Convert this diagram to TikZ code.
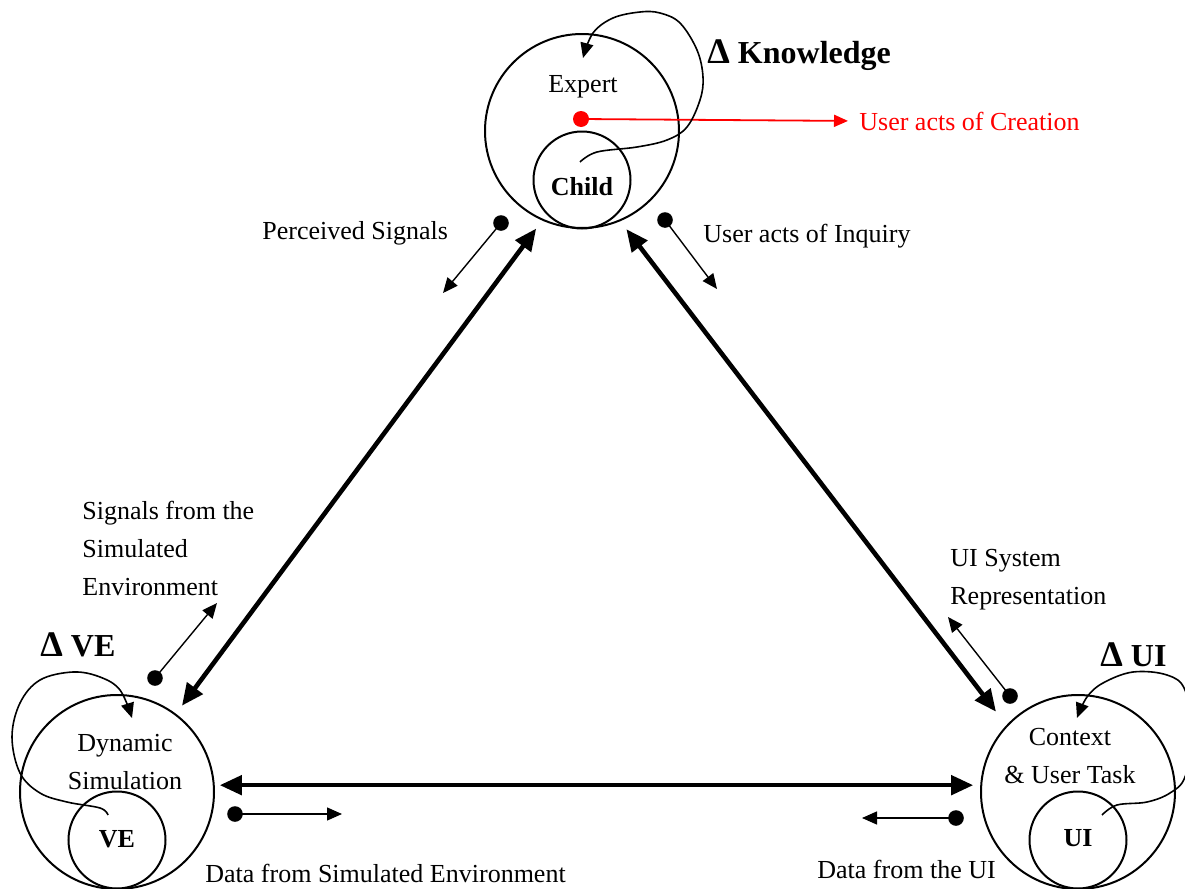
\documentclass[tikz,border=0pt]{standalone}
\usepackage{fontspec}
\setmainfont{Liberation Serif}
\usetikzlibrary{arrows.meta}
\newcommand{\bigdelta}{{\fontsize{18}{18}\selectfont Δ}}
\begin{document}
\begin{tikzpicture}[x=0.5pt,y=-0.5pt,
  txt/.style={font=\fontsize{13}{19}\selectfont, inner sep=0pt},
  big/.style={draw, circle, line width=1pt, minimum size=97pt, inner sep=0pt},
  small/.style={draw, circle, line width=1pt, minimum size=48.5pt, inner sep=0pt},
  thickarr/.style={line width=2.3pt, {Triangle[length=11pt,width=9.5pt]}-{Triangle[length=11pt,width=9.5pt]}},
  thinarr/.style={line width=0.7pt, -{Triangle[length=7.5pt,width=6.5pt]}},
  dotn/.style={circle, fill, inner sep=0pt, minimum size=7.8pt},
  loopline/.style={line width=0.8pt, -{Triangle[length=7.5pt,width=6.5pt]}},
  delta/.style={font=\fontsize{16}{18}\selectfont\bfseries, inner sep=0pt},
]
\useasboundingbox (0,0) rectangle (1185,889);
\clip (0,0) rectangle (1185,889);

% circles
\node[big] (expert) at (582,131) {};
\node[small] (child) at (582,180) {};
\node[big] (sim) at (117,792) {};
\node[small] (ve) at (117,840) {};
\node[big] (ctx) at (1078,792) {};
\node[small] (ui) at (1078,840) {};

% labels in circles
\node[txt] (expertlbl) at (583,87) {Expert};
\node[txt] (childlbl) at (582,187) {\textbf{Child}};
\node[txt, align=center] (simlbl) at (125,762) {Dynamic\\Simulation};
\node[txt] (velbl) at (117,839) {\textbf{VE}};
\node[txt, align=center] (ctxlbl) at (1070,756) {Context\\\& User Task};
\node[txt] (uilbl) at (1078,838) {\textbf{UI}};

% delta labels
\node[delta, anchor=west] (dk) at (707,55) {\bigdelta{} Knowledge};
\node[delta, anchor=west] (dve) at (40,645) {\bigdelta{} VE};
\node[delta, anchor=west] (dui) at (1100,655) {\bigdelta{} UI};

% other labels
\node[txt, anchor=west] (perc) at (262,233) {Perceived Signals};
\node[txt, anchor=west] (inq) at (703,236) {User acts of Inquiry};
\node[txt, anchor=west, align=left] (sigsim) at (82,548) {Signals from the\\Simulated\\Environment};
\node[txt, anchor=west, align=left] (uisys) at (950,580) {UI System\\Representation};
\node[txt, anchor=west] (datasim) at (205,873) {Data from Simulated Environment};
\node[txt, anchor=west] (dataui) at (817,869) {Data from the UI};
\node[txt, anchor=west, text=red] (creation) at (859,121) {User acts of Creation};

% thick arrows
\draw[thickarr, shorten <=5pt, shorten >=5pt] (sim.53.5) -- (expert.246.6);
\draw[thickarr, shorten <=5pt, shorten >=8.5pt] (expert.293.9) -- (ctx.137.2);
\draw[thickarr, shorten <=2.5pt, shorten >=3.5pt] (sim.4) -- (ctx.176);

% thin arrows with dots
\node[dotn] (d1) at (501,223) {}; \coordinate (e1) at (443,293);
\draw[thinarr] (d1.center) -- (e1);
\node[dotn] (d2) at (665,220) {}; \coordinate (e2) at (717,289);
\draw[thinarr] (d2.center) -- (e2);
\node[dotn] (d3) at (155,678) {}; \coordinate (e3) at (217,603);
\draw[thinarr] (d3.center) -- (e3);
\node[dotn] (d4) at (1010,696) {}; \coordinate (e4) at (948,617);
\draw[thinarr] (d4.center) -- (e4);
\node[dotn] (d5) at (235,814) {}; \coordinate (e5) at (342,814);
\draw[thinarr] (d5.center) -- (e5);
\node[dotn] (d6) at (956,818) {}; \coordinate (e6) at (862,818);
\draw[thinarr] (d6.center) -- (e6);

% red arrow
\node[dotn, fill=red, minimum size=8pt] (rdot) at (581,119) {};
\draw[red, line width=0.9pt, -{Triangle[length=7pt,width=6pt]}, shorten >=5.5pt] (rdot.center) -- (creation.west);

% loops
\draw[loopline] plot[smooth, tension=0.6] coordinates {(580,162) (597,152) (637,147) (667,140) (687,127) (700,100) (703,77) (697,50) (680,23) (660,13) (640,12) (613,18) (593,33) (583,58)};
\draw[loopline] plot[smooth, tension=0.6] coordinates {(108,815) (100,808) (67,802) (40,793) (20,773) (12,737) (20,703) (40,680) (73,672) (100,677) (120,690) (132,718)};
\draw[loopline] plot[smooth, tension=0.6] coordinates {(1102,815) (1117,805) (1147,802) (1170,793) (1185,777) (1192,735) (1185,690) (1167,675) (1133,672) (1103,683) (1087,697) (1077,718)};
\end{tikzpicture}
\end{document}
